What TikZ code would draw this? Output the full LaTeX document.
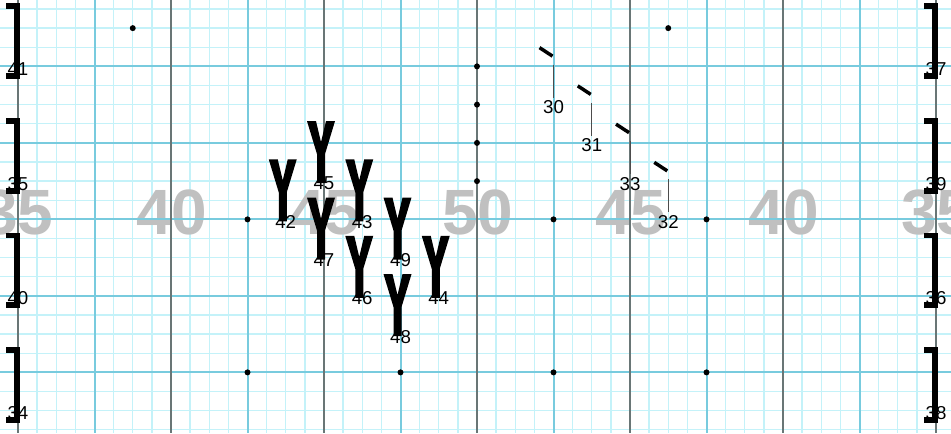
\documentclass[tikz,border=0pt]{standalone}
\usepackage{fontspec}
\setmainfont{Liberation Sans}
\definecolor{gridlight}{RGB}{196,242,249}
\definecolor{gridmid}{RGB}{120,203,222}
\definecolor{griddark}{RGB}{105,118,118}
\definecolor{yard}{RGB}{192,192,192}
\tikzset{
  ysym/.pic={\fill[black] (-17,-60) -- (-8,-60) -- (-3,-39) -- (2,-60) -- (11,-60) -- (1,-27) -- (1,2) -- (-7,2) -- (-7,-27) -- cycle;},
  brk/.pic={\draw[black,line width=4.4pt,line join=miter] (-12,-60.4) -- (-0.7,-60.4) -- (-0.7,9.5) -- (-12,9.5);},
  tk/.pic={\draw[black,line width=2.6pt] (-14,-57) -- (-1,-48.5);},
  lbl/.style={font=\fontsize{14}{14}\selectfont, inner sep=0pt, text=black},
  yardnum/.style={font=\fontsize{48}{48}\selectfont\bfseries, text=yard, inner sep=0pt},
  gdot/.style={circle, fill=black, inner sep=0pt, minimum size=4.5pt},
  stemline/.style={draw=black!70, line width=0.75pt, shorten >=2pt},
}
\begin{document}
\begin{tikzpicture}[x=0.75pt,y=-0.75pt]
\fill[white] (0,0) rectangle (951,433);
\useasboundingbox (0,0) rectangle (951,433);
% light grid
\foreach \k in {-1,...,49} \draw[gridlight,line width=1pt] ({18+\k*19.125},0) -- ({18+\k*19.125},433);
\foreach \k in {0,...,22} \draw[gridlight,line width=1pt] (0,{9+\k*19.125}) -- (951,{9+\k*19.125});
% yard numbers
\node[yardnum] (y35a) at (18,212.5) {35};
\node[yardnum] (y40a) at (172,212.5) {40};
\node[yardnum] (y45a) at (325,212.5) {45};
\node[yardnum] (y50) at (478,212.5) {50};
\node[yardnum] (y45b) at (631,212.5) {45};
\node[yardnum] (y40b) at (784,212.5) {40};
\node[yardnum] (y35b) at (937,212.5) {35};
% medium and dark lines
\foreach \k in {3,7,11,15,19} \draw[gridmid,line width=1.5pt] (0,{9+\k*19.125}) -- (951,{9+\k*19.125});
\foreach \k in {4,12,...,44} \draw[gridmid,line width=1.5pt] ({18+\k*19.125},0) -- ({18+\k*19.125},433);
\foreach \k in {0,8,...,48} \draw[griddark,line width=1.1pt] ({18+\k*19.125},0) -- ({18+\k*19.125},433);
% dots
\node[gdot] (d1) at (132.75,28.125) {};
\node[gdot] (d2) at (668.25,28.125) {};
\node[gdot] (d3) at (477,66.375) {};
\node[gdot] (d4) at (477,104.625) {};
\node[gdot] (d5) at (477,142.875) {};
\node[gdot] (d6) at (477,181.125) {};
\node[gdot] (d7) at (247.5,219.375) {};
\node[gdot] (d8) at (400.5,219.375) {};
\node[gdot] (d9) at (553.5,219.375) {};
\node[gdot] (d10) at (706.5,219.375) {};
\node[gdot] (d11) at (247.5,372.375) {};
\node[gdot] (d12) at (400.5,372.375) {};
\node[gdot] (d13) at (553.5,372.375) {};
\node[gdot] (d14) at (706.5,372.375) {};
% brackets
\coordinate (p41) at (18,66.375);
\coordinate (p35) at (18,181.125);
\coordinate (p40) at (18,295.875);
\coordinate (p34) at (18,410.625);
\coordinate (p37) at (936,66.375);
\coordinate (p39) at (936,181.125);
\coordinate (p36) at (936,295.875);
\coordinate (p38) at (936,410.625);
\foreach \p in {p41,p35,p40,p34,p37,p39,p36,p38} \pic at (\p) {brk};
% Y symbols
\coordinate (p45) at (324,181.125);
\coordinate (p42) at (285.75,219.375);
\coordinate (p43) at (362.25,219.375);
\coordinate (p47) at (324,257.625);
\coordinate (p49) at (400.5,257.625);
\coordinate (p46) at (362.25,295.875);
\coordinate (p44) at (438.75,295.875);
\coordinate (p48) at (400.5,334.125);
\foreach \p in {p45,p42,p43,p47,p49,p46,p44,p48} \pic at (\p) {ysym};
% ticks
\coordinate (p30) at (553.5,104.625);
\coordinate (p31) at (591.75,142.875);
\coordinate (p33) at (630,181.125);
\coordinate (p32) at (668.25,219.375);
\foreach \p in {p30,p31,p33,p32} \pic at (\p) {tk};
% labels
\foreach \n in {41,35,40,34,37,39,36,38,45,42,43,47,49,46,44,48,30,31,33,32}
  \node[lbl] (l\n) at ([yshift=-1.9pt]p\n) {\n};
\foreach \n in {30,31,33,32}
  \draw[stemline] (p\n) ++(0,-40) -- (l\n.north);
\end{tikzpicture}
\end{document}
